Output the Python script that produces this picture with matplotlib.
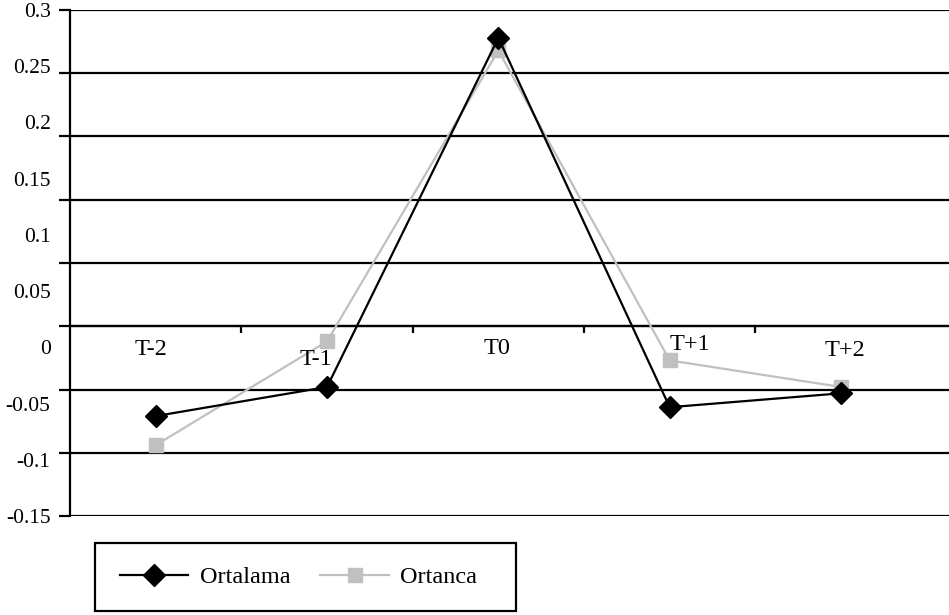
import matplotlib
matplotlib.use("Agg")
import matplotlib.pyplot as plt
from matplotlib.patches import Rectangle
import numpy as np

plt.rcParams['font.family'] = ['Liberation Serif', 'DejaVu Serif']
plt.rcParams['font.size'] = 17.5

# Event-window categories and the two series
periods = ["T-2", "T-1", "T0", "T+1", "T+2"]
ortalama = [-0.071, -0.048, 0.228, -0.064, -0.053]
ortanca = [-0.094, -0.012, 0.218, -0.027, -0.048]

# value-axis labels as printed on the left
ytick_labels = ["0.3", "0.25", "0.2", "0.15", "0.1", "0.05", "0", "-0.05", "-0.1", "-0.15"]

# nudges (pixels) for the category labels sitting under the zero line
label_nudge = [(-5, -23), (-11, -33), (-1, -22), (20, -18), (4, -24)]

W, H = 949, 615
fig = plt.figure(figsize=(W / 100, H / 100), dpi=100)
ax = fig.add_axes([70 / W, 1 - 516 / H, 1 - 70 / W, 506 / H])

x = np.arange(len(periods))
ax.plot(x, ortalama, color="black", lw=1.6, marker="D", ms=11,
        mfc="black", mec="black", label="Ortalama", zorder=4)
ax.plot(x, ortanca, color="#c0c0c0", lw=1.6, marker="s", ms=10,
        mfc="#c0c0c0", mec="#c0c0c0", label="Ortanca", zorder=3)

ax.set_xlim(-0.5, 4.63)
ax.set_ylim(-0.15, 0.25)

# horizontal gridlines every 0.05
ax.set_yticks(np.arange(-0.15, 0.2501, 0.05))
ax.yaxis.grid(True, color="black", lw=1.6)
ax.tick_params(axis="y", direction="out", length=8, width=1.6, labelleft=False)

# category axis sits on the zero line
ax.spines["bottom"].set_position(("data", 0))
ax.spines["bottom"].set_linewidth(1.6)
ax.spines["left"].set_linewidth(1.6)
ax.spines["top"].set_visible(False)
ax.spines["right"].set_visible(False)
ax.set_xticks(np.arange(0.5, 4, 1.0))
ax.tick_params(axis="x", direction="out", length=5, width=1.6, labelbottom=False)

for i, name in enumerate(periods):
    dx, dy = label_nudge[i]
    ax.annotate(name, (x[i], 0), xytext=(dx * 0.72, dy * 0.72),
                textcoords="offset points", ha="center", va="center")

# printed value labels
lab = ax.twinx()
lab.set_ylim(-0.15, 0.3)
lab.set_yticks(np.linspace(0.3, -0.15, len(ytick_labels)))
lab.set_yticklabels(ytick_labels, fontsize=15.5)
lab.yaxis.tick_left()
lab.tick_params(axis="y", length=0, pad=14)
for s in lab.spines.values():
    s.set_visible(False)

# legend below the plot in its own box
fig.patches.append(Rectangle((95 / W, 1 - 611 / H), 421 / W, 68 / H,
                             transform=fig.transFigure, fill=False,
                             lw=1.6, edgecolor="black"))
fig.legend(loc="center left", bbox_to_anchor=(120 / W, 1 - 577 / H), ncol=2,
           frameon=False, borderpad=0, borderaxespad=0, handlelength=2.8,
           handletextpad=0.49, columnspacing=1.23)

fig.savefig("out.png", dpi=100)
